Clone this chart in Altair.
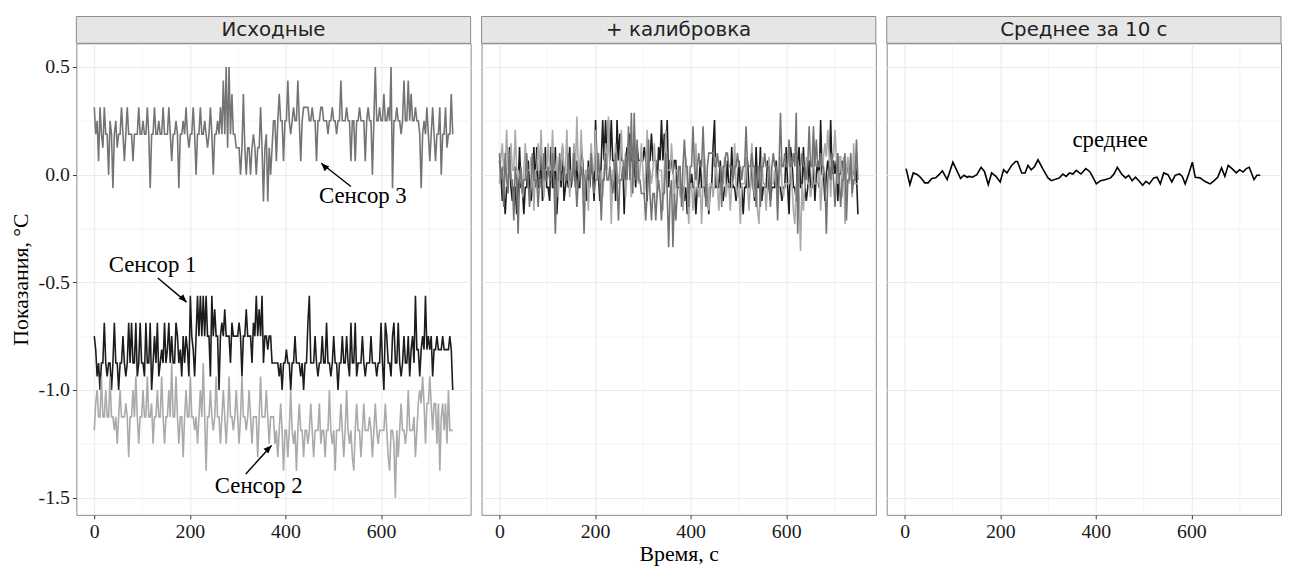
import altair as alt
import pandas as pd
import numpy as np

# ---------------- data ----------------
# raw sensor readings in units of the sensor resolution (1/16 degC), one every 3 s
RES = 0.0625
T_STEP = 3

sensor1_q = [-12,-13,-15,-14,-16,-14,-14,-11,-14,-15,-14,-14,-16,-14,-11,-14,-14,-16,-14,-14,-12,-14,-15,-14,-11,
             -14,-11,-14,-14,-11,-15,-14,-11,-14,-14,-15,-11,-14,-14,-11,-16,-14,-12,-14,-11,-15,-14,-13,-14,-11,
             -14,-13,-11,-14,-12,-14,-14,-11,-12,-14,-13,-15,-12,-14,-12,-13,-15,-9,-12,-13,-15,-12,-9,-12,-9,
             -12,-9,-12,-9,-12,-12,-15,-9,-12,-10,-12,-12,-16,-12,-11,-12,-10,-12,-12,-12,-14,-11,-12,-12,-12,
             -12,-11,-12,-15,-12,-12,-10,-12,-12,-12,-14,-11,-12,-9,-12,-10,-12,-9,-14,-12,-12,-13,-12,-12,-14,
             -14,-14,-14,-14,-15,-14,-16,-14,-14,-13,-14,-14,-16,-14,-14,-12,-14,-14,-14,-15,-14,-16,-14,-14,-11,
             -9,-14,-14,-14,-12,-14,-15,-14,-14,-12,-14,-14,-11,-14,-14,-15,-14,-12,-14,-14,-16,-14,-14,-12,-14,
             -14,-12,-14,-15,-11,-14,-14,-11,-15,-14,-14,-14,-12,-14,-15,-14,-14,-14,-12,-14,-14,-14,-15,-14,-14,
             -11,-14,-16,-11,-12,-14,-14,-15,-12,-11,-14,-14,-11,-14,-15,-14,-12,-14,-14,-12,-15,-13,-12,-14,-9,
             -13,-13,-15,-13,-12,-13,-9,-13,-12,-13,-12,-15,-13,-13,-12,-13,-13,-13,-12,-13,-13,-13,-13,-12,-13,
             -16]

sensor2_q = [-19,-17,-16,-18,-18,-15,-18,-18,-16,-18,-18,-15,-18,-18,-19,-18,-20,-18,-16,-18,-18,-18,-17,-18,-21,
             -18,-18,-16,-18,-15,-18,-20,-18,-18,-16,-18,-18,-15,-18,-18,-17,-20,-18,-18,-16,-18,-18,-15,-18,-20,
             -18,-18,-16,-18,-14,-18,-18,-15,-18,-20,-18,-18,-21,-18,-16,-18,-18,-15,-18,-18,-19,-18,-20,-18,-16,
             -18,-14,-18,-22,-18,-18,-16,-18,-19,-18,-15,-18,-18,-20,-18,-16,-18,-20,-18,-15,-18,-18,-19,-18,-16,
             -18,-20,-18,-15,-18,-18,-19,-18,-16,-18,-20,-18,-18,-18,-21,-18,-15,-18,-18,-18,-16,-18,-20,-18,-18,
             -18,-20,-19,-21,-19,-17,-19,-22,-19,-19,-21,-19,-16,-19,-20,-19,-22,-19,-17,-19,-19,-21,-19,-19,-20,
             -19,-17,-19,-21,-19,-19,-19,-17,-20,-19,-19,-21,-19,-19,-16,-19,-20,-19,-22,-19,-19,-19,-17,-19,-21,
             -19,-16,-19,-20,-19,-21,-22,-19,-17,-19,-19,-21,-19,-17,-19,-19,-19,-18,-19,-21,-19,-17,-19,-20,-19,
             -19,-19,-19,-17,-19,-21,-22,-19,-19,-20,-24,-19,-21,-19,-17,-19,-19,-20,-19,-16,-19,-19,-19,-18,-21,
             -19,-17,-16,-17,-15,-17,-20,-17,-17,-15,-17,-19,-17,-17,-20,-17,-22,-18,-17,-19,-17,-20,-16,-19,-19,
             -19]

sensor3_q = [5,3,4,1,5,3,2,5,3,3,0,4,3,-1,3,4,2,3,3,5,3,1,3,5,3,
             3,3,1,3,3,3,5,3,3,4,3,3,5,3,-1,3,3,5,3,3,4,3,3,5,3,
             3,3,5,3,1,3,3,4,3,-1,3,3,4,3,5,3,2,3,3,5,3,0,3,3,5,
             3,3,4,3,2,3,5,3,0,3,3,4,3,5,3,7,3,8,2,8,3,6,3,3,2,
             2,2,0,2,6,2,0,2,2,0,2,3,2,0,2,2,5,2,-2,2,3,-2,2,0,2,
             4,4,1,4,6,4,4,1,4,4,7,4,3,4,5,4,4,7,4,1,4,5,5,5,5,
             4,4,5,4,4,1,4,4,5,5,4,4,4,3,4,4,5,4,4,3,4,4,7,4,4,
             4,5,4,4,1,4,4,1,4,4,5,4,4,4,1,4,5,4,4,0,4,8,4,4,5,
             4,4,6,4,4,5,4,8,-1,4,4,5,4,4,3,4,7,4,4,7,4,6,4,4,5,
             4,4,3,-1,3,4,3,5,3,1,3,5,3,1,3,3,5,0,3,3,5,2,3,3,6,
             3]

# 10-second mean of the calibrated sensors (third panel)
mean_t = [3,11,18,27,34,42,49,57,65,72,79,89,101,110,117,124,131,135,142,151,
          160,167,175,182,191,200,207,214,224,232,236,245,252,258,265,272,279,290,300,307,
          314,324,331,338,345,352,359,369,379,387,393,401,410,421,431,438,445,454,462,469,
          476,483,491,498,505,512,521,528,535,542,551,559,566,575,581,587,595,602,608,618,
          628,639,646,655,663,670,677,685,694,701,708,715,721,731,737,744]
mean_v = [0.028,-0.046,0.008,0.0,-0.015,-0.038,-0.038,-0.018,-0.015,0.0,
          0.018,-0.023,0.058,0.015,-0.018,-0.003,-0.012,-0.008,-0.012,0.0,
          0.034,0.015,-0.046,0.008,-0.008,-0.034,0.023,0.008,0.043,0.061,
          0.061,0.008,0.008,0.043,0.023,0.038,0.069,0.023,-0.015,-0.028,
          -0.023,-0.015,0.003,-0.008,0.008,0.003,0.02,0.003,0.028,0.015,
          -0.008,-0.043,-0.028,-0.023,-0.015,0.003,0.034,0.003,-0.015,-0.003,
          -0.028,-0.012,-0.031,-0.049,-0.031,-0.043,-0.015,-0.012,-0.043,0.008,
          0.0,-0.034,-0.003,0.003,-0.008,-0.043,0.008,0.058,-0.012,-0.015,
          -0.031,-0.043,-0.031,-0.012,0.031,-0.008,0.043,0.028,0.008,0.023,
          0.012,0.028,0.034,-0.023,-0.003,-0.003]

panel_titles = ["Исходные", "+ калибровка", "Среднее за 10 с"]
sensor_names = ["Сенсор 1", "Сенсор 2", "Сенсор 3"]
sensor_colors = ["#1c1c1c", "#aaaaaa", "#747474"]
x_title = "Время, с"
y_title = "Показания, °C"
mean_label = "среднее"

# annotation table (data units)
ann_label = ["Сенсор 1", "Сенсор 2", "Сенсор 3"]
ann_text_t = [122, 344, 562]
ann_text_v = [-0.42, -1.445, -0.10]
ann_from_t = [133, 317, 537]
ann_from_v = [-0.48, -1.39, -0.055]
ann_to_t = [193, 371, 475]
ann_to_v = [-0.592, -1.258, 0.053]
ann_angle = [135, 45, 315]
mean_label_t, mean_label_v = 430, 0.16

# ---------------- build tables ----------------
raw_frames, cal_frames = [], []
for name, q in zip(sensor_names, [sensor1_q, sensor2_q, sensor3_q]):
    v = np.array(q, dtype=float) * RES
    t = np.arange(len(q)) * T_STEP
    raw_frames.append(pd.DataFrame({"t": t, "v": v, "sensor": name}))
    cal_frames.append(pd.DataFrame({"t": t, "v": v - v.mean(), "sensor": name}))

mean_df = pd.DataFrame({"t": mean_t, "v": mean_v})
ann_df = pd.DataFrame({"label": ann_label, "tt": ann_text_t, "tv": ann_text_v,
                       "ft": ann_from_t, "fv": ann_from_v, "et": ann_to_t, "ev": ann_to_v,
                       "angle": ann_angle})
mean_lab_df = pd.DataFrame({"label": [mean_label], "t": [mean_label_t], "v": [mean_label_v]})

# ---------------- styling ----------------
W, H = 398, 476
STRIP_H = 27
SERIF = "Liberation Serif"
SANS = "DejaVu Sans"
GRID = "#ebebeb"

xs = alt.Scale(domain=[-37.5, 787.5], nice=False, zero=False)
ys = alt.Scale(domain=[-1.58, 0.61], nice=False, zero=False)

x_major_test = "datum.value % 200 == 0"
y_major_test = "abs(datum.value * 2 - round(datum.value * 2)) < 0.001"


def x_axis(title):
    return alt.Axis(
        values=[0, 100, 200, 300, 400, 500, 600, 700],
        labelExpr=f"{x_major_test} ? datum.label : ''",
        grid=True, gridColor=GRID,
        gridWidth={"condition": {"test": x_major_test, "value": 1.1}, "value": 0.55},
        domain=False, ticks=True, tickSize=4, tickColor="#333333",
        tickOpacity={"condition": {"test": x_major_test, "value": 1}, "value": 0},
        labelFont=SERIF, labelFontSize=20, labelColor="#1a1a1a", labelPadding=3,
        labelFlush=False,
        title=title if title else "",
        titleFont=SERIF, titleFontSize=22, titleFontWeight="normal", titleColor="#000000",
        titlePadding=2,
    )


def y_axis(show):
    if show:
        return alt.Axis(
            values=[-1.5, -1.25, -1.0, -0.75, -0.5, -0.25, 0.0, 0.25, 0.5],
            grid=True, gridColor=GRID,
            gridWidth={"condition": {"test": y_major_test, "value": 1.1}, "value": 0.55},
            domain=False,
            title=y_title,
            labelExpr=f"{y_major_test} ? (datum.value < 0 ? '-' : '') + format(abs(datum.value), '.1f') : ''",
            ticks=True, tickSize=4, tickColor="#333333",
            tickOpacity={"condition": {"test": y_major_test, "value": 1}, "value": 0},
            labelFont=SERIF, labelFontSize=20, labelColor="#1a1a1a", labelPadding=3,
            labelFlush=False,
            titleFont=SERIF, titleFontSize=22, titleFontWeight="normal", titleColor="#000000",
            titlePadding=6,
        )
    return alt.Axis(
        values=[-1.5, -1.25, -1.0, -0.75, -0.5, -0.25, 0.0, 0.25, 0.5],
        grid=True, gridColor=GRID,
        gridWidth={"condition": {"test": y_major_test, "value": 1.1}, "value": 0.55},
        domain=False, title="", labels=False, ticks=False,
    )


def strip(title):
    d = pd.DataFrame({"label": [title]})
    rect = alt.Chart(d).mark_rect(fill="#e6e6e6", stroke="#8a8a8a", strokeWidth=1).encode(
        x=alt.value(0), x2=alt.value(W), y=alt.value(-STRIP_H), y2=alt.value(0))
    txt = alt.Chart(d).mark_text(font=SANS, fontSize=20, color="#222222", baseline="middle").encode(
        x=alt.value(W / 2), y=alt.value(-STRIP_H / 2 + 0.5), text="label:N")
    return [rect, txt]


def make_lines(frames, x_t, show_y):
    xa = x_axis(x_t)
    ya = y_axis(show_y)
    out = []
    for df, col in zip(frames, sensor_colors):
        out.append(alt.Chart(df).mark_line(color=col, strokeWidth=1.6).encode(
            x=alt.X("t:Q", scale=xs, axis=xa),
            y=alt.Y("v:Q", scale=ys, axis=ya),
        ))
    return out, xa, ya


# panel 1: raw
l1, xa1, ya1 = make_lines(raw_frames, None, True)
ann_text = alt.Chart(ann_df).mark_text(font=SERIF, fontSize=23, color="#000000").encode(
    x=alt.X("tt:Q", scale=xs, axis=xa1), y=alt.Y("tv:Q", scale=ys, axis=ya1), text="label:N")
ann_rule = alt.Chart(ann_df).mark_rule(color="#000000", strokeWidth=1.4).encode(
    x=alt.X("ft:Q", scale=xs, axis=xa1), y=alt.Y("fv:Q", scale=ys, axis=ya1),
    x2="et:Q", y2="ev:Q")
ann_head = alt.Chart(ann_df).mark_point(
    shape="M0,0 L-0.7,1.7 L0.7,1.7 Z", filled=True, color="#000000", size=90, opacity=1).encode(
    x=alt.X("et:Q", scale=xs, axis=xa1), y=alt.Y("ev:Q", scale=ys, axis=ya1),
    angle=alt.Angle("angle:Q", scale=None))
p1 = alt.layer(*strip(panel_titles[0]), *l1, ann_rule, ann_head, ann_text).properties(width=W, height=H)

# panel 2: calibrated
l2, _, _ = make_lines(cal_frames, x_title, False)
p2 = alt.layer(*strip(panel_titles[1]), *l2).properties(width=W, height=H)

# panel 3: mean
xa3, ya3 = x_axis(None), y_axis(False)
mean_line = alt.Chart(mean_df).mark_line(color="#000000", strokeWidth=1.6).encode(
    x=alt.X("t:Q", scale=xs, axis=xa3), y=alt.Y("v:Q", scale=ys, axis=ya3))
mean_text = alt.Chart(mean_lab_df).mark_text(font=SERIF, fontSize=23, color="#000000").encode(
    x=alt.X("t:Q", scale=xs, axis=xa3), y=alt.Y("v:Q", scale=ys, axis=ya3), text="label:N")
p3 = alt.layer(*strip(panel_titles[2]), mean_line, mean_text).properties(width=W, height=H)

chart = alt.hconcat(p1, p2, p3, spacing=9).properties(
    padding={"left": 0, "top": 5, "right": 0, "bottom": 0},
    background="#ffffff",
).configure_view(stroke="#8a8a8a", strokeWidth=1)

chart.save("out.html", embed_options={"renderer": "svg", "actions": False})
